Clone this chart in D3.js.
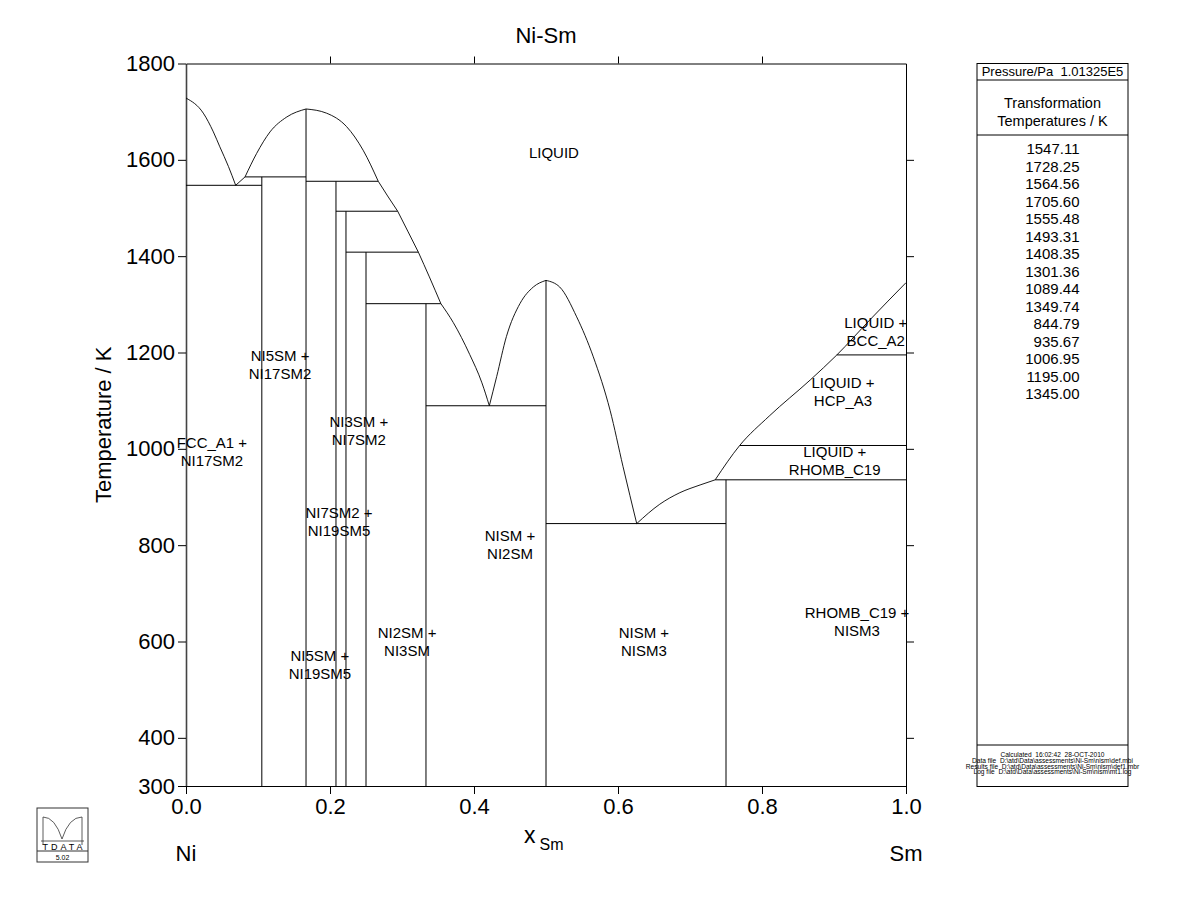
<!DOCTYPE html>
<html>
<head>
<meta charset="utf-8">
<script src="https://cdn.jsdelivr.net/npm/d3@7"></script>
<style>
  body { margin: 0; background: #fff; }
  text { font-family: "Liberation Sans", Arial, sans-serif; fill: #000; white-space: pre; }
</style>
</head>
<body>
<div id="container"></div>
<script>
/* DATA */
// compounds (vertical lines): composition x(Sm) and upper temperature
const compoundNames = ["NI17SM2", "NI5SM", "NI19SM5", "NI7SM2", "NI3SM", "NI2SM", "NISM", "NISM3"]
const compoundX = [0.1053, 0.1667, 0.2083, 0.2222, 0.25, 0.3333, 0.5, 0.75]
const compoundTop = [1564.56, 1705.60, 1555.48, 1493.31, 1408.35, 1301.36, 1349.74, 935.67]

// invariant (horizontal) lines
const invT = [1547.11, 1564.56, 1555.48, 1493.31, 1408.35, 1301.36, 1089.44, 844.79, 935.67, 1006.95, 1195.00]
const invX1 = [0, 0.082, 0.1667, 0.2083, 0.2222, 0.25, 0.3333, 0.5, 0.735, 0.769, 0.904]
const invX2 = [0.1053, 0.1667, 0.267, 0.294, 0.3227, 0.354, 0.5, 0.75, 1, 1, 1]

// liquidus branches [x, T]
const liqNi = [[0, 1728.25], [0.024, 1697], [0.038, 1658], [0.047, 1627], [0.059, 1586], [0.069, 1547.11]]
const liqNi17Sm2 = [[0.069, 1547.11], [0.082, 1564.56]]
const liqNi5SmL = [[0.082, 1564.56], [0.098, 1613], [0.1167, 1658], [0.14, 1689], [0.1667, 1705.60]]
const liqNi5SmR = [[0.1667, 1705.60], [0.195, 1697], [0.223, 1669], [0.246, 1620], [0.267, 1555.48]]
const liqNi19Sm5 = [[0.267, 1555.48], [0.28, 1525], [0.294, 1493.31]]
const liqNi7Sm2 = [[0.294, 1493.31], [0.308, 1452], [0.3227, 1408.35]]
const liqNi3Sm = [[0.3227, 1408.35], [0.338, 1357], [0.354, 1301.36]]
const liqNi2Sm = [[0.354, 1301.36], [0.3713, 1262], [0.394, 1196], [0.411, 1137], [0.4213, 1089.44]]
const liqNiSmL = [[0.4213, 1089.44], [0.4315, 1150], [0.445, 1233], [0.464, 1302], [0.4824, 1336], [0.5, 1349.74]]
const liqNiSmR = [[0.5, 1349.74], [0.519, 1336], [0.5426, 1274], [0.5657, 1191], [0.589, 1080], [0.607, 963], [0.626, 844.79]]
const liqNiSm3 = [[0.626, 844.79], [0.658, 885], [0.686, 909], [0.714, 925], [0.735, 935.67]]
const liqSm = [[0.735, 935.67], [0.769, 1006.95], [0.81, 1068], [0.867, 1143], [0.904, 1195], [0.95, 1268], [1, 1345]]

// phase field labels
const labelLines = [["LIQUID"], ["LIQUID +", "BCC_A2"], ["LIQUID +", "HCP_A3"], ["LIQUID +", "RHOMB_C19"],
  ["RHOMB_C19 +", "NISM3"], ["NISM +", "NISM3"], ["NISM +", "NI2SM"], ["NI2SM +", "NI3SM"],
  ["NI5SM +", "NI19SM5"], ["NI7SM2 +", "NI19SM5"], ["NI3SM +", "NI7SM2"], ["NI5SM +", "NI17SM2"],
  ["FCC_A1 +", "NI17SM2"]]
const labelX = [0.511, 0.958, 0.9125, 0.901, 0.932, 0.636, 0.45, 0.307, 0.186, 0.2125, 0.24, 0.1306, 0.036]
const labelT = [1614, 1242, 1118, 974.5, 640, 598.5, 800, 598.5, 551, 848, 1037, 1174, 994]

// axes
const xTicks = [0, 0.2, 0.4, 0.6, 0.8, 1.0]
const yTicks = [300, 400, 600, 800, 1000, 1200, 1400, 1600, 1800]

// side table
const tableTemps = ["1547.11", "1728.25", "1564.56", "1705.60", "1555.48", "1493.31", "1408.35", "1301.36",
  "1089.44", "1349.74", "844.79", "935.67", "1006.95", "1195.00", "1345.00"]
const tableFoot = ["Calculated  16:02:42  28-OCT-2010",
  "Data file  D:\\atd\\Data\\assessments\\Ni-Sm\\nism\\def.mbi",
  "Results file  D:\\atd\\Data\\assessments\\Ni-Sm\\nism\\def1.mbr",
  "Log file  D:\\atd\\Data\\assessments\\Ni-Sm\\nism\\mt1.log"]

/* CONSTANTS */
const width = 1200, height = 923
const margin = { top: 63.5, bottom: 137, left: 186, right: 294 }

/* SCALES */
const xScale = d3.scaleLinear().domain([0, 1]).range([margin.left, width - margin.right])
const yScale = d3.scaleLinear().domain([300, 1800]).range([height - margin.bottom, margin.top])

const svg = d3.select("#container").append("svg")
  .attr("width", width)
  .attr("height", height)

svg.append("rect").attr("width", width).attr("height", height).attr("fill", "#fff")

/* AXES */
const axisFont = 22
const leftAxis = svg.append("g")
  .attr("transform", `translate(${margin.left},0)`)
  .call(d3.axisLeft(yScale).tickValues(yTicks).tickFormat(d3.format("d")).tickSize(8).tickSizeOuter(0).tickPadding(3))
svg.append("g")
  .attr("transform", `translate(0,${yScale(300)})`)
  .call(d3.axisBottom(xScale).tickValues(xTicks).tickFormat(d3.format(".1f")).tickSize(8).tickSizeOuter(0).tickPadding(4))
svg.append("g")
  .attr("transform", `translate(0,${yScale(1800)})`)
  .call(d3.axisTop(xScale).tickValues([0.2, 0.4, 0.6, 0.8]).tickFormat("").tickSize(7).tickSizeOuter(0))
svg.append("g")
  .attr("transform", `translate(${xScale(1)},0)`)
  .call(d3.axisRight(yScale).tickValues([400, 600, 800, 1000, 1200, 1400, 1600]).tickFormat("").tickSize(8).tickSizeOuter(0))

svg.selectAll(".tick text")
  .attr("font-size", axisFont)
  .attr("font-family", "Liberation Sans, Arial, sans-serif")
  .attr("fill", "#000")
svg.selectAll(".domain, .tick line").attr("stroke", "#000")
leftAxis.select(".domain").attr("stroke", "#444").attr("stroke-width", 1.6)

/* PHASE BOUNDARIES */
const plot = svg.append("g").attr("fill", "none").attr("stroke", "#000").attr("stroke-width", 1)

plot.selectAll("line.compound")
  .data(compoundX)
  .join("line")
  .attr("class", "compound")
  .attr("x1", d => xScale(d)).attr("x2", d => xScale(d))
  .attr("y1", yScale(300))
  .attr("y2", (d, i) => yScale(compoundTop[i]))

plot.selectAll("line.invariant")
  .data(invT)
  .join("line")
  .attr("class", "invariant")
  .attr("x1", (d, i) => xScale(invX1[i]))
  .attr("x2", (d, i) => xScale(invX2[i]))
  .attr("y1", d => yScale(d)).attr("y2", d => yScale(d))

const liqLine = d3.line()
  .x(d => xScale(d[0]))
  .y(d => yScale(d[1]))
  .curve(d3.curveMonotoneX)

const branches = [liqNi, liqNi17Sm2, liqNi5SmL, liqNi5SmR, liqNi19Sm5, liqNi7Sm2, liqNi3Sm,
  liqNi2Sm, liqNiSmL, liqNiSmR, liqNiSm3, liqSm]
plot.selectAll("path.liq")
  .data(branches)
  .join("path")
  .attr("class", "liq")
  .attr("stroke-width", 0.9)
  .attr("d", liqLine)

/* LABELS */
svg.selectAll("text.phase")
  .data(labelLines)
  .join("text")
  .attr("class", "phase")
  .attr("text-anchor", "middle")
  .attr("font-size", 15)
  .attr("x", (d, i) => xScale(labelX[i]))
  .attr("y", (d, i) => yScale(labelT[i]) + 5 - (d.length - 1) * 9)
  .selectAll("tspan")
  .data(d => d)
  .join("tspan")
  .attr("x", function () { return this.parentNode.getAttribute("x") })
  .attr("dy", (d, i) => i === 0 ? 0 : 18)
  .text(d => d)

// title and axis titles
const midX = (xScale(0) + xScale(1)) / 2
svg.append("text").attr("x", midX).attr("y", 43).attr("text-anchor", "middle")
  .attr("font-size", 22).text("Ni-Sm")

svg.append("text")
  .attr("transform", `translate(111,${(yScale(300) + yScale(1800)) / 2}) rotate(-90)`)
  .attr("text-anchor", "middle").attr("font-size", 22).text("Temperature / K")

const xl = svg.append("text").attr("x", 524).attr("y", 843).attr("font-size", 23)
xl.append("tspan").text("x")
xl.append("tspan").attr("dx", 4).attr("dy", 7).attr("font-size", 16).text("Sm")

svg.append("text").attr("x", xScale(0)).attr("y", 861).attr("text-anchor", "middle").attr("font-size", 22).text("Ni")
svg.append("text").attr("x", xScale(1)).attr("y", 861).attr("text-anchor", "middle").attr("font-size", 22).text("Sm")

/* SIDE TABLE */
const tb = { x0: 977, x1: 1128, y0: 63.5, y1: 786.5 }
const tcx = (tb.x0 + tb.x1) / 2
const table = svg.append("g")
table.append("rect")
  .attr("x", tb.x0).attr("y", tb.y0)
  .attr("width", tb.x1 - tb.x0).attr("height", tb.y1 - tb.y0)
  .attr("fill", "none").attr("stroke", "#000")
;[80, 135, 745].forEach(yy => {
  table.append("line").attr("x1", tb.x0).attr("x2", tb.x1).attr("y1", yy).attr("y2", yy).attr("stroke", "#000")
})
table.append("text").attr("x", tcx).attr("y", 76).attr("text-anchor", "middle").attr("font-size", 13)
  .text("Pressure/Pa  1.01325E5")
table.append("text").attr("x", tcx).attr("y", 108).attr("text-anchor", "middle").attr("font-size", 14.5).text("Transformation")
table.append("text").attr("x", tcx).attr("y", 126).attr("text-anchor", "middle").attr("font-size", 14.5).text("Temperatures / K")

table.selectAll("text.temp")
  .data(tableTemps)
  .join("text")
  .attr("class", "temp")
  .attr("x", tcx + 27)
  .attr("y", (d, i) => 154 + i * 17.5)
  .attr("text-anchor", "end")
  .attr("font-size", 15)
  .text(d => d)

table.selectAll("text.foot")
  .data(tableFoot)
  .join("text")
  .attr("class", "foot")
  .attr("x", tcx)
  .attr("y", (d, i) => 757 + i * 5.8)
  .attr("text-anchor", "middle")
  .attr("font-size", 6.6)
  .text(d => d)

/* LOGO */
const logo = svg.append("g").attr("transform", "translate(37,808)")
logo.append("rect").attr("width", 51).attr("height", 54).attr("fill", "none").attr("stroke", "#333")
logo.append("line").attr("x1", 0).attr("x2", 51).attr("y1", 43).attr("y2", 43).attr("stroke", "#333")
logo.append("path")
  .attr("d", "M6,37 L6,9 Q18,9 25,31 Q32,9 45,9 L45,37 M4,33 L47,33")
  .attr("fill", "none").attr("stroke", "#333").attr("stroke-width", 0.8)
logo.append("text").attr("x", 25.5).attr("y", 42).attr("text-anchor", "middle").attr("font-size", 9)
  .attr("textLength", 40).text("TDATA")
logo.append("text").attr("x", 25.5).attr("y", 51.5).attr("text-anchor", "middle").attr("font-size", 7).text("5.02")
</script>
</body>
</html>
